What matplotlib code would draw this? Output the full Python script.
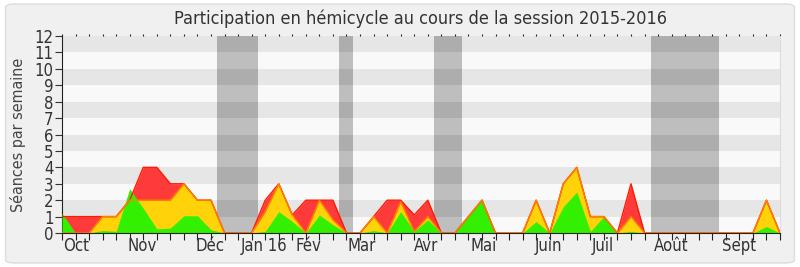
import numpy as np
import matplotlib
matplotlib.use("Agg")
import matplotlib.pyplot as plt
from matplotlib.patches import Rectangle, FancyBboxPatch

# séances par semaine (une valeur par semaine, oct 2015 -> sept 2016)
total = [1, 1, 1, 1, 1, 2, 4, 4, 3, 3, 2, 2, 0, 0, 0, 2, 3, 1.1, 2, 2, 2, 0, 0, 1, 2, 2, 1.1,
         2, 0, 0, 1, 2, 0, 0, 0, 2, 0, 3, 4, 1, 1, 0, 3, 0, 0, 0, 0, 0, 0, 0, 0, 0, 2, 0]
presence = [0, 0, 0, 1, 1, 2, 2, 2, 2, 3, 2, 2, 0, 0, 0, 1.3, 3, 1.1, 0, 2, 0.8, 0, 0, 1, 0, 1.9, 0.1,
            1, 0, 0, 1, 2, 0, 0, 0, 2, 0, 3, 4, 1, 1, 0, 1, 0, 0, 0, 0, 0, 0, 0, 0, 0, 2, 0]
interv = [1.2, 0, 0, 0.15, 0.1, 2.7, 1.5, 0.25, 0.3, 1.05, 1.05, 0.2, 0, 0, 0, 0.1, 1.3, 0.7, 0, 1.1, 0.5,
          0, 0, 0.15, 0, 1.3, 0.1, 0.8, 0, 0, 1.05, 2.1, 0, 0, 0, 0.7, 0, 1.6, 2.5, 0.1, 1, 0, 0.1,
          0, 0, 0, 0, 0, 0, 0, 0, 0, 0.4, 0]

# vacances parlementaires (en semaines)
vacances = [(11.45, 14.45), (20.45, 21.45), (27.45, 29.5), (43.47, 48.5)]

mois = ["Oct", "Nov", "Déc", "Jan 16", "Fév", "Mar", "Avr", "Mai", "Juin", "Juil", "Août", "Sept"]
mois_pos = [1.03, 5.95, 10.9, 14.95, 18.2, 22.1, 26.9, 31.1, 35.9, 39.95, 44.95, 50.0]

semaines = np.arange(len(total))

plt.rcParams['font.family'] = ['DejaVu Sans']
plt.rcParams['font.stretch'] = 'condensed'

fig = plt.figure(figsize=(8, 2.67), dpi=100)
fig.patch.set_facecolor('white')
fig.patches.append(FancyBboxPatch((0.007, 0.015), 0.986, 0.97, boxstyle="round,pad=0,rounding_size=0.012",
                                  transform=fig.transFigure, facecolor='#f0f0f0', edgecolor='#dcdcdc',
                                  linewidth=1, zorder=-10))
ax = fig.add_axes([0.0775, 0.1273, 0.8975, 0.7377])
ax.set_facecolor('#f9f9f9')
ax.set_xlim(0, len(total) - 1)
ax.set_ylim(0, 12)

# bandes horizontales
for k in range(6):
    ax.axhspan(2 * k + 1, 2 * k + 2, color='#e6e6e6', zorder=0, lw=0)

# vacances
for a, b in vacances:
    ax.axvspan(a, b, color='#bebebe', zorder=1, lw=0)
    for k in range(6):
        ax.add_patch(Rectangle((a, 2 * k + 1), b - a, 1, color='#adadad', zorder=1.5, lw=0))

ax.fill_between(semaines, total, color='#ff3a3a', lw=0, zorder=2)
ax.fill_between(semaines, presence, color='#ffd20a', lw=0, zorder=3)
ax.fill_between(semaines, interv, color='#33f000', lw=0, zorder=4)
ax.plot(semaines, total, color='#ff1a00', lw=1.0, zorder=5)
ax.plot(semaines, presence, color='#ff8000', lw=1.0, zorder=6)

ax.set_title("Participation en hémicycle au cours de la session 2015-2016", fontsize=13, color='#333333', pad=9)
ax.set_ylabel("Séances par semaine", fontsize=11.5, color='#444444', labelpad=6)

ax.set_yticks(range(13))
ax.tick_params(axis='y', labelsize=12, colors='#333333', length=5, pad=1)
ax.xaxis.remove_overlapping_locs = False
ax.set_xticks(semaines)
ax.set_xticklabels([])
ax.tick_params(axis='x', which='major', length=5, color='#222222', top=True, direction='out')
for t in ax.xaxis.get_major_ticks():
    t.tick2line.set_markersize(1.5)
ax.set_xticks(mois_pos, mois, minor=True)
ax.tick_params(axis='x', which='minor', length=0, labelsize=12, labelcolor='#333333', pad=3)

ax.spines['top'].set_visible(False)
ax.spines['right'].set_color('#dddddd')
ax.spines['left'].set_color('#222222')
ax.spines['bottom'].set_color('#222222')
ax.spines['bottom'].set_zorder(7)

fig.savefig("out.png", dpi=100)
